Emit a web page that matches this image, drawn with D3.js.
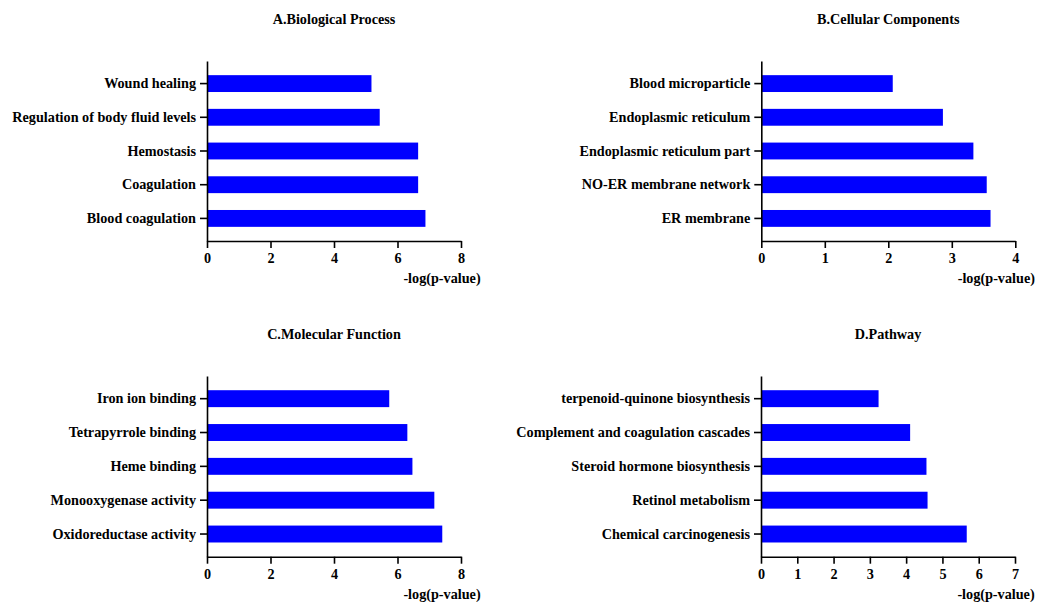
<!DOCTYPE html>
<html>
<head>
<meta charset="utf-8">
<script src="https://cdn.jsdelivr.net/npm/d3@7"></script>
<style>
  body { margin: 0; background: #fff; }
  svg text { font-family: "Liberation Serif", "Times New Roman", serif; font-weight: bold; fill: #000; }
  .axis path, .axis line { stroke: #000; stroke-width: 1.6; }
</style>
</head>
<body>
<svg id="vis" width="1037" height="602"></svg>
<script>
// panel titles
const TITLES = ["A.Biological Process", "B.Cellular Components", "C.Molecular Function", "D.Pathway"];

// categories, top to bottom
const BP_TERMS = ["Wound healing", "Regulation of body fluid levels", "Hemostasis", "Coagulation", "Blood coagulation"];
const CC_TERMS = ["Blood microparticle", "Endoplasmic reticulum", "Endoplasmic reticulum part", "NO-ER membrane network", "ER membrane"];
const MF_TERMS = ["Iron ion binding", "Tetrapyrrole binding", "Heme binding", "Monooxygenase activity", "Oxidoreductase activity"];
const PW_TERMS = ["terpenoid-quinone biosynthesis", "Complement and coagulation cascades", "Steroid hormone biosynthesis", "Retinol metabolism", "Chemical carcinogenesis"];

// -log(p-value)
const BP_VALUES = [5.18, 5.44, 6.65, 6.65, 6.88];
const CC_VALUES = [2.07, 2.86, 3.34, 3.55, 3.61];
const MF_VALUES = [5.74, 6.31, 6.47, 7.16, 7.41];
const PW_VALUES = [3.24, 4.11, 4.56, 4.59, 5.67];

// x axis max and ticks
const X_MAX = [8, 4, 8, 7];
const X_TICKS = [[0, 2, 4, 6, 8], [0, 1, 2, 3, 4], [0, 2, 4, 6, 8], [0, 1, 2, 3, 4, 5, 6, 7]];

const X_LABEL = "-log(p-value)";
const BAR_COLOR = "#0000ff";

const PLOT_W = 254;
const FONT = "14.2px";
const svg = d3.select("#vis");

function drawPanel(i, terms, values, left, top, bottom){
    const g = svg.append("g");

    const x = d3.scaleLinear().domain([0, X_MAX[i]]).range([left, left + PLOT_W]);
    const y = d3.scaleBand().domain(terms).range([top, bottom])
        .paddingInner(0.5).paddingOuter(0.42);

    g.selectAll("rect")
        .data(terms)
        .enter()
        .append("rect")
        .attr("x", x(0))
        .attr("y", d => y(d))
        .attr("width", (d, k) => x(values[k]) - x(0))
        .attr("height", y.bandwidth())
        .attr("fill", BAR_COLOR);

    g.append("g")
        .attr("class", "axis")
        .attr("transform", `translate(0, ${bottom})`)
        .call(d3.axisBottom(x).tickValues(X_TICKS[i]).tickFormat(d3.format("d"))
            .tickSize(7).tickSizeOuter(0).tickPadding(5));

    g.append("g")
        .attr("class", "axis")
        .attr("transform", `translate(${left}, 0)`)
        .call(d3.axisLeft(y).tickSize(7).tickSizeOuter(0).tickPadding(4));

    g.selectAll(".axis").attr("font-family", null).attr("font-size", null);
    g.selectAll(".axis text").style("font-size", FONT);

    svg.append("text")
        .attr("x", left + PLOT_W / 2)
        .attr("y", top - 37)
        .attr("text-anchor", "middle")
        .style("font-size", FONT)
        .text(TITLES[i]);

    svg.append("text")
        .attr("x", left + PLOT_W - 19)
        .attr("y", bottom + 42)
        .attr("text-anchor", "middle")
        .style("font-size", FONT)
        .text(X_LABEL);
}

drawPanel(0, BP_TERMS, BP_VALUES, 207, 61, 241);
drawPanel(1, CC_TERMS, CC_VALUES, 761.3, 61, 241);
drawPanel(2, MF_TERMS, MF_VALUES, 207, 376, 556.7);
drawPanel(3, PW_TERMS, PW_VALUES, 761, 376, 556.7);
</script>
</body>
</html>
